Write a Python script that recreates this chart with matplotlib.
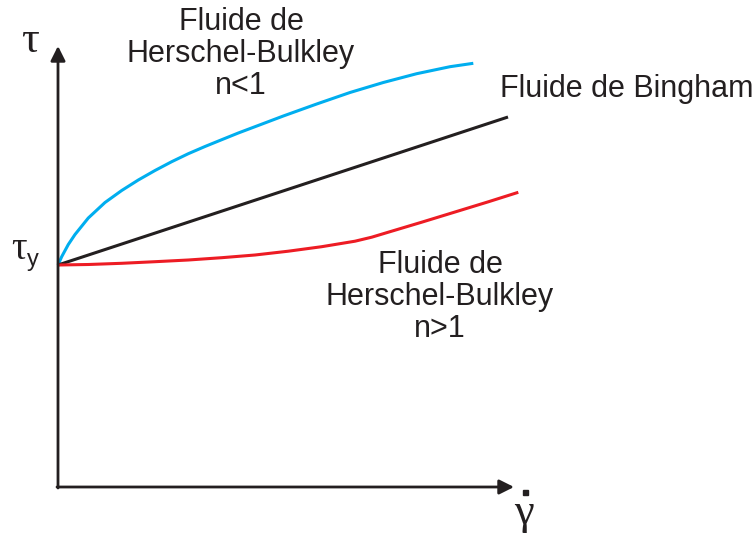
import matplotlib
matplotlib.use("Agg")
import matplotlib.pyplot as plt

# ---- data (shear rate, shear stress) in arbitrary units ----
tau_y = 222
hb_low_x = [0, 3.7, 10.3, 17, 30.3, 47, 63.7, 80.3, 97, 113.7, 130.3, 147, 163.7,
            180.3, 197, 225.3, 258.7, 292, 325.3, 358.7, 392, 415.3]
hb_low_y = [222, 230.3, 242.5, 252.5, 269, 284.5, 296.5, 307, 316.5, 325.3, 333.3,
            340.5, 347.3, 354, 360.3, 371, 383, 394.5, 404.5, 413.3, 420.3, 423.7]
bingham_x = [0, 450]
bingham_y = [222, 370]
hb_high_x = [0, 30.3, 63.7, 97, 130.3, 163.7, 197, 230.3, 263.7, 297, 313.7, 330.3,
             363.7, 397, 430.3, 460.3]
hb_high_y = [222, 222.5, 223.7, 225.3, 227, 229.3, 232, 235.8, 240.3, 245.8, 249.8,
             254.8, 264.8, 275, 285.2, 294.7]

W, H = 753, 533
fig = plt.figure(figsize=(W / 100, H / 100), dpi=100)
ax = fig.add_axes([0, 0, 1, 1])
ax.set_xlim(-58, W - 58)
ax.set_ylim(-(H - 487), 487)
ax.axis("off")

dark = "#231f20"
blue = "#00aeef"
red = "#ed1c24"

# axes with arrows
ax.annotate("", xy=(0, 441), xytext=(0, -1),
            arrowprops=dict(arrowstyle="-|>", lw=2, color=dark, mutation_scale=22,
                            shrinkA=0, shrinkB=0))
ax.annotate("", xy=(456, 0), xytext=(-1, 0),
            arrowprops=dict(arrowstyle="-|>", lw=2, color=dark, mutation_scale=22,
                            shrinkA=0, shrinkB=0))

ax.plot(hb_low_x, hb_low_y, color=blue, lw=2.2, solid_capstyle="butt", solid_joinstyle="round")
ax.plot(bingham_x, bingham_y, color=dark, lw=2.2, solid_capstyle="butt")
ax.plot(hb_high_x, hb_high_y, color=red, lw=2.2, solid_capstyle="butt", solid_joinstyle="round")


def ptext(x, y, s, **kw):
    fig.text(x / W, 1 - y / H, s, **kw)


sans = "Liberation Sans"
serif = "Liberation Serif"
fs = 22
ptext(241, 7, "Fluide de\nHerschel-Bulkley\nn<1", ha="center", va="top",
      fontsize=fs, family=sans, color=dark, linespacing=1.08, multialignment="center")
ptext(500, 97, "Fluide de Bingham", ha="left", va="baseline",
      fontsize=fs, family=sans, color=dark)
ptext(440, 250, "Fluide de\nHerschel-Bulkley\nn>1", ha="center", va="top",
      fontsize=fs, family=sans, color=dark, linespacing=1.08, multialignment="center")

ptext(21, 52, "τ", ha="left", va="baseline", fontsize=32, family=serif, color=dark)
ptext(11, 259, "τ", ha="left", va="baseline", fontsize=28, family=serif, color=dark)
ptext(27, 266, "y", ha="left", va="baseline", fontsize=17, family=sans, color=dark)
ptext(514, 524, "γ", ha="left", va="baseline", fontsize=32, family=serif, color=dark)
fig.patches.append(plt.Rectangle(((523) / W, 1 - 495 / H), 5 / W, 5 / H,
                                 transform=fig.transFigure, color=dark))

fig.savefig("out.png", dpi=100)
